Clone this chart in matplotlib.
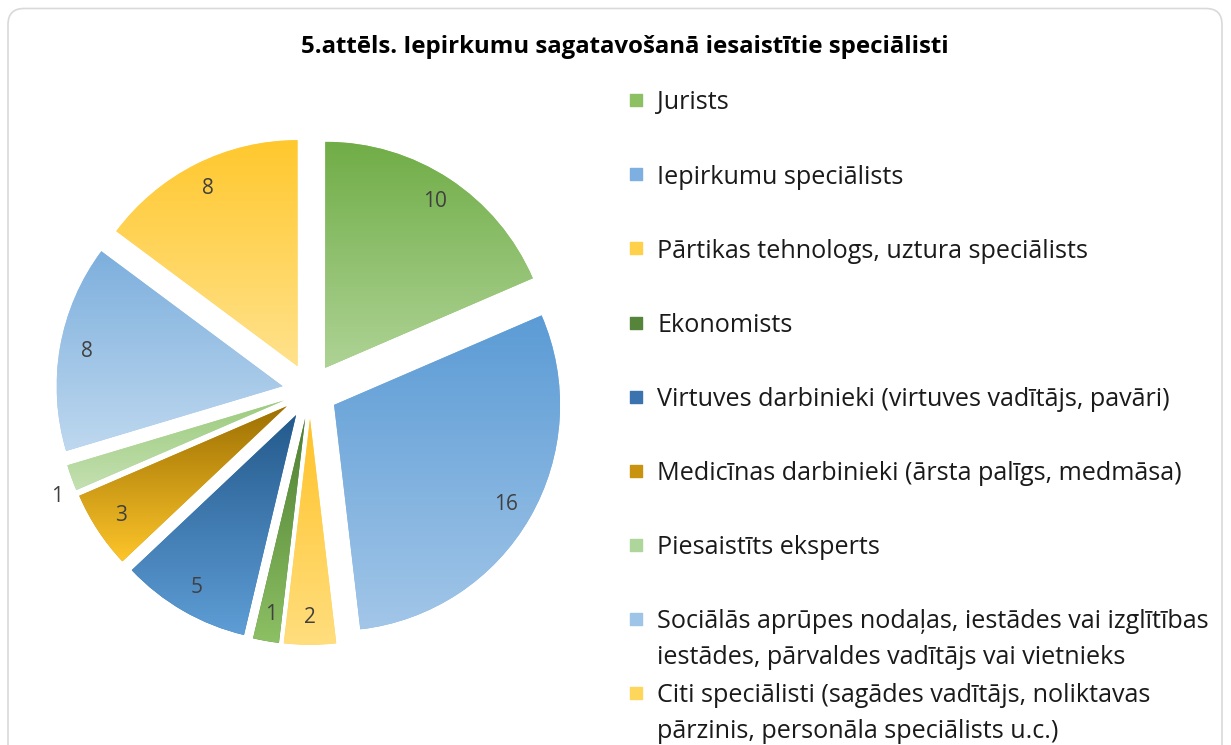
import numpy as np
import matplotlib
matplotlib.use("Agg")
import matplotlib.pyplot as plt
from matplotlib.colors import LinearSegmentedColormap
from matplotlib.patches import FancyBboxPatch

plt.rcParams['font.family'] = ['Open Sans', 'DejaVu Sans']

title = "5.attēls. Iepirkumu sagatavošanā iesaistītie speciālisti"

labels = [
    "Jurists",
    "Iepirkumu speciālists",
    "Pārtikas tehnologs, uztura speciālists",
    "Ekonomists",
    "Virtuves darbinieki (virtuves vadītājs, pavāri)",
    "Medicīnas darbinieki (ārsta palīgs, medmāsa)",
    "Piesaistīts eksperts",
    "Sociālās aprūpes nodaļas, iestādes vai izglītības\niestādes, pārvaldes vadītājs vai vietnieks",
    "Citi speciālisti (sagādes vadītājs, noliktavas\npārzinis, personāla speciālists u.c.)",
]
values = [10, 16, 2, 1, 5, 3, 1, 8, 8]

# gradient colours per slice: top (darker) -> bottom (lighter)
top_colors = ["#70AD47", "#5B9BD5", "#FFC32A", "#4F7F32", "#245A8C", "#9C6F02", "#9CCB7E", "#7DAFDD", "#FFC82E"]
bottom_colors = ["#AED395", "#A2C6E8", "#FFDE7E", "#8DC064", "#5E9DD6", "#FDC52A", "#C4E0B1", "#BED8EF", "#FFE28C"]
legend_colors = ["#8CC063", "#7DB0E0", "#FFD04A", "#55843A", "#3A73AE", "#C89410", "#AED59A", "#9EC4E8", "#FFD65C"]

W, H = 1231, 745
fig = plt.figure(figsize=(W / 100, H / 100), dpi=100)
ax = fig.add_axes([0, 0, 1, 1])

# outer frame
frame = FancyBboxPatch((8, -30), W - 17, H - 8 + 30 - 0.5,
                       boxstyle="round,pad=0,rounding_size=16",
                       facecolor="white", edgecolor="#D9D9D9", linewidth=1.2, zorder=0)
ax.add_patch(frame)

cx, cy, R = 310, H - 391, 226
explode_px = 27.8
wedges, _ = ax.pie(values, startangle=90, counterclock=False, radius=R,
                   center=(cx, cy), explode=[explode_px] * len(values),
                   colors=legend_colors, frame=False,
                   wedgeprops=dict(linewidth=0))


def fill_gradient(patch, top, bottom):
    x0, y0, x1, y1 = patch.get_path().get_extents().extents
    cmap = LinearSegmentedColormap.from_list("g", [bottom, top])
    grad = np.linspace(0, 1, 256).reshape(-1, 1)
    im = ax.imshow(grad, cmap=cmap, extent=(x0, x1, y0, y1), origin="lower",
                   aspect="auto", zorder=patch.get_zorder() + 0.1,
                   interpolation="bilinear")
    im.set_clip_path(patch)


for w, t, b in zip(wedges, top_colors, bottom_colors):
    fill_gradient(w, t, b)

# value labels
for i, (w, v) in enumerate(zip(wedges, values)):
    th = np.deg2rad((w.theta1 + w.theta2) / 2)
    d = 0.88
    if i == 6:
        d = 1.09
        th = th + np.deg2rad(3)
    x = w.center[0] + d * w.r * np.cos(th)
    y = w.center[1] + d * w.r * np.sin(th)
    ax.text(x, y, str(v), ha="center", va="center", fontsize=15,
            color="#404040", zorder=5)

# title
ax.text(625, H - 47, title, ha="center", va="center", fontsize=17.3,
        fontweight="bold", color="#000000")

# legend
row_y = [100, 174, 248, 323, 397, 471, 545, 619, 693]
line_gap = 36
for lab, col, yy in zip(labels, legend_colors, row_y):
    ax.scatter([636], [H - yy], marker="s", s=64, color=col, zorder=5)
    for k, line in enumerate(lab.split("\n")):
        ax.text(657, H - yy - k * line_gap, line, ha="left", va="center_baseline",
                fontsize=18.1, color="#1A1A1A")

ax.set_xlim(0, W)
ax.set_ylim(0, H)
ax.set_aspect("equal")
ax.axis("off")

fig.savefig("out.png", dpi=100)
